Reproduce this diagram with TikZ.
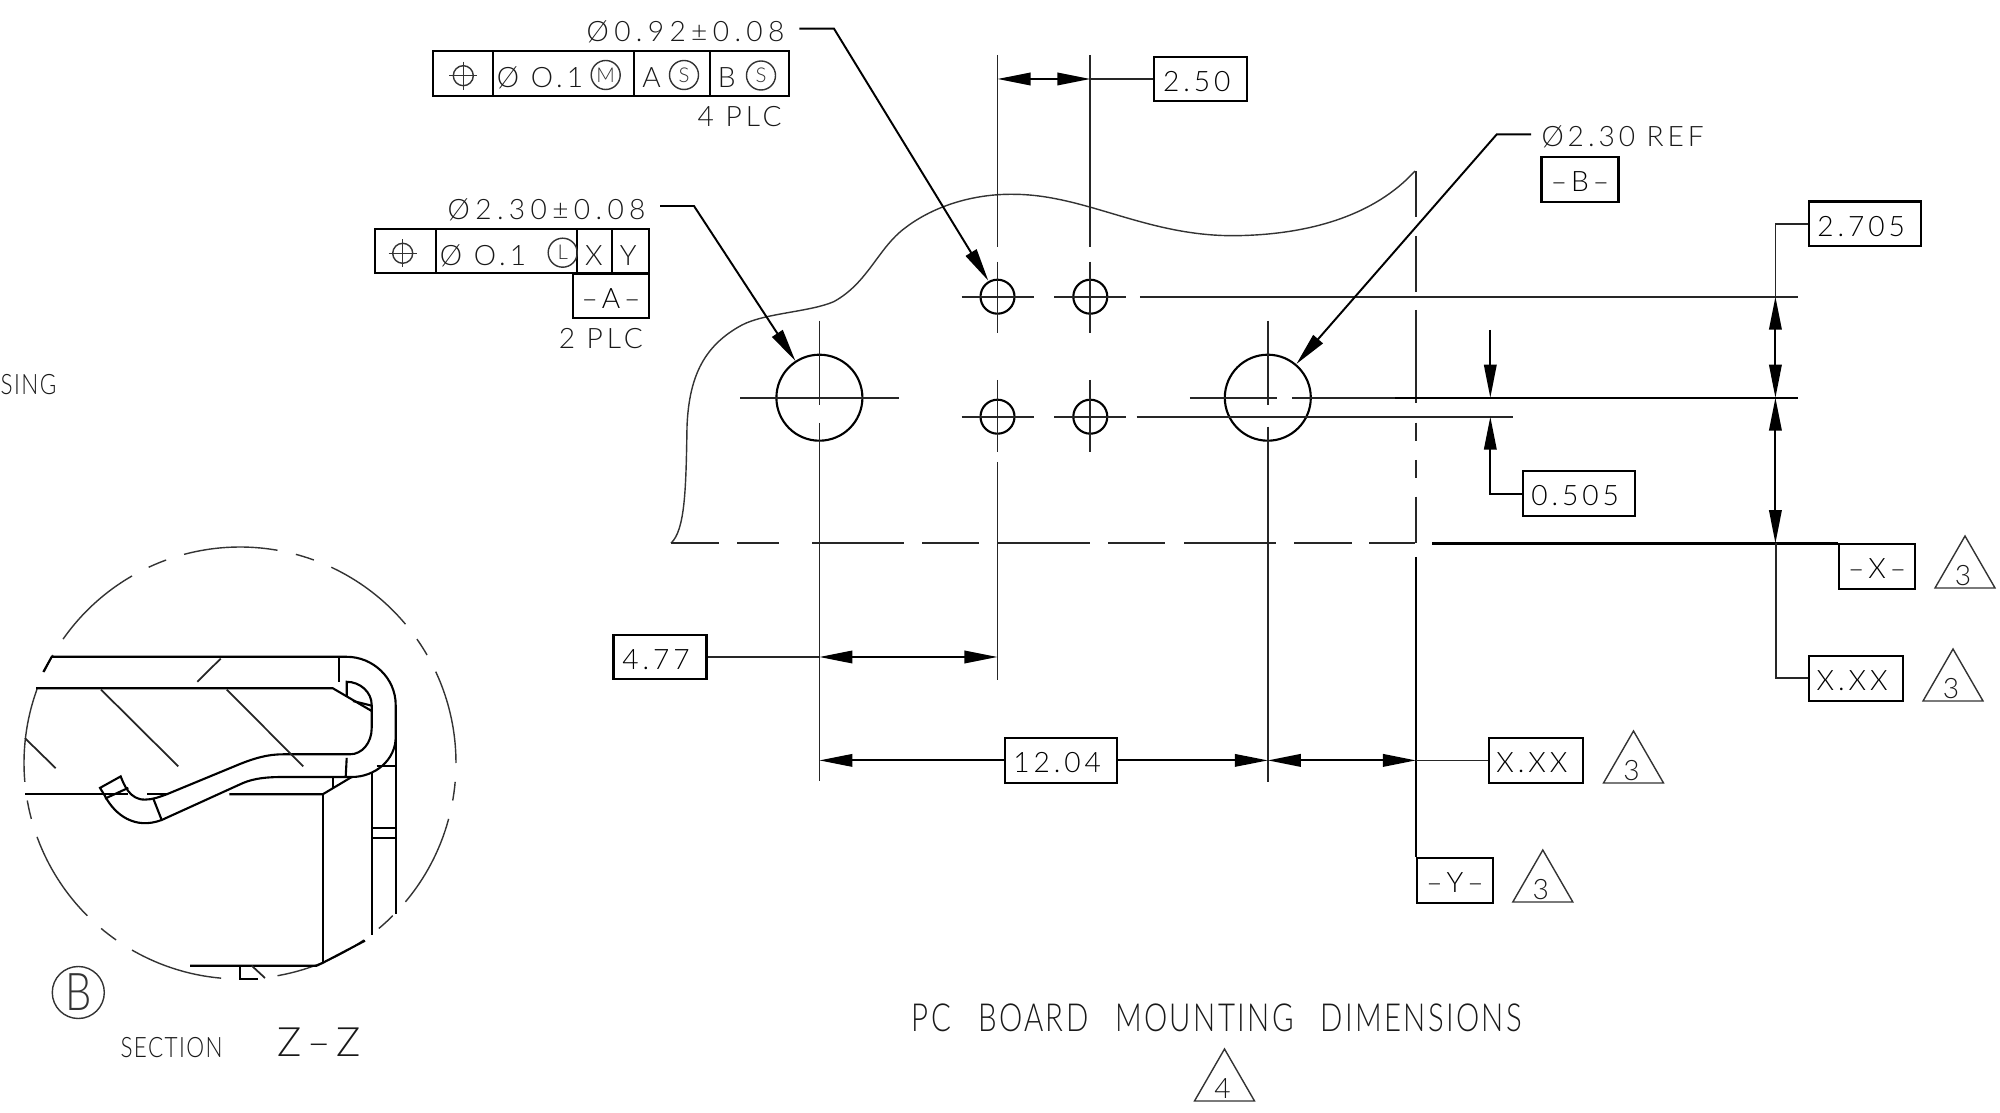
\documentclass[tikz,border=0pt]{standalone}
\usepackage{fontspec}
\setmainfont{Lato}[UprightFont=* Light,LetterSpace=14]
\usetikzlibrary{arrows.meta}
\tikzset{
  hairline/.style={line width=0.4pt,black!80},
  thinline/.style={line width=0.5pt,black!85},
  heavy/.style={line width=0.6pt},
  dimline/.style={line width=0.55pt,{Triangle[length=3.3mm,width=1.25mm]}-{Triangle[length=3.3mm,width=1.25mm]}},
  tipline/.style={line width=0.55pt,-{Triangle[length=3.3mm,width=1.25mm]}},
  dimbox/.style={draw,line width=0.6pt,inner sep=0pt,minimum height=0.445cm,text height=7pt,text depth=0pt,font=\fontsize{8}{8}\selectfont},
  numbox/.style={dimbox,execute at end node=\kern2.2pt},
  lbl/.style={inner sep=0pt,black!90,text height=7pt,text depth=0pt,font=\fontsize{8}{8}\selectfont},
  tol/.style={lbl,font=\fontsize{8}{8}\selectfont\addfontfeature{LetterSpace=19}},
  narrow/.style={lbl,font=\fontsize{8}{8}\selectfont\addfontfeature{FakeStretch=0.8,LetterSpace=5}},
  letter/.style={draw,circle,hairline,minimum size=0.29cm,inner sep=0pt,font=\fontsize{5.8}{6}\selectfont\addfontfeature{LetterSpace=0}}
}
\begin{document}
\begin{tikzpicture}[x=0.01cm,y=-0.01cm]
\useasboundingbox (0,0) rectangle (2000,1113);
\coordinate (holeL) at (819.4,397.7);
\coordinate (holeR) at (1267.8,397.7);
\coordinate (tipF) at (988.3,280.7);
\coordinate (tipL) at (795.4,361);
\coordinate (tipR) at (1296.4,364);
\node[narrow,anchor=west] (sing) at (0,382) {SING};
% board outline
\draw[hairline] (671,543.2) .. controls (685,530) and (686,490) .. (687,426.7) .. controls (689,375) and (705,345) .. (742,325) .. controls (765,313) and (810,312) .. (833.7,301.7) .. controls (868,283) and (878,248) .. (905,228) .. controls (935,205) and (975,194) .. (1012,194.3) .. controls (1085,194) and (1145,236) .. (1234,235.7) .. controls (1310,235) and (1375,215) .. (1415,171);
\foreach \a/\b in {671/719,737/779,812/904,922/979,997.5/1090,1108/1165,1184/1276,1294/1351.6,1369/1415}
  \draw[thinline] (\a,543.2) -- (\b,543.2);
\foreach \a/\b in {171/217,236/291.7,310/403,422.7/440.7,460/478,496.7/543.2}
  \draw[thinline] (1415.8,\a) -- (1415.8,\b);
% holes
\draw[heavy] (holeL) circle (43);
\draw[heavy] (holeR) circle (43);
\foreach \hx in {997.5,1090.3}
  \foreach \hy in {296.7,416.7} {
    \draw[heavy] (\hx,\hy) circle (17);
    \draw[thinline] (\hx-36,\hy) -- (\hx+36,\hy);
  }
\foreach \hx in {997.5,1090.3} {
  \draw[thinline] (\hx,55) -- (\hx,247);
  \draw[thinline] (\hx,261.7) -- (\hx,332.7);
  \draw[thinline] (\hx,380) -- (\hx,452);
}
\draw[thinline] (997.5,462) -- (997.5,680);
\draw[thinline] (740,397.7) -- (899,397.7);
\draw[thinline] (819.4,320.7) -- (819.4,405);
\draw[thinline] (819.4,423) -- (819.4,781);
\draw[thinline] (1189.8,397.7) -- (1276.5,397.7);
\draw[thinline] (1291.8,397.7) -- (1395,397.7);
\draw[heavy] (1395,397.7) -- (1798,397.7);
\draw[thinline] (1267.8,320.7) -- (1267.8,405);
\draw[thinline] (1267.8,426.7) -- (1267.8,782);
\draw[thinline] (1139.8,296.7) -- (1798,296.7);
\draw[thinline] (1136.7,416.7) -- (1513,416.7);
% datums
\draw[line width=0.8pt] (1432,543.2) -- (1838,543.2);
\node[dimbox,minimum width=0.76cm,anchor=north west] (datumX) at (1838,543.2) {–X–};
\draw[line width=0.6pt] (1415.9,557) -- (1415.9,857);
\node[dimbox,minimum width=0.76cm,anchor=north west] (datumY) at (1416,857) {–Y–};
\node[dimbox,minimum width=0.77cm] (datumB) at (1580,179.4) {–B–};
% top callouts
\node[tol] (tolF) at (685.5,29) {Ø0.92±0.08};
\coordinate (startF) at (799.3,28.7);
\draw[tipline] (startF) -- (834,28.7) -- (tipF);
\draw[heavy] (432.7,51.3) rectangle (788.7,95.7);
\foreach \dx in {493.3,634.3,710}
  \draw[heavy] (\dx,51.3) -- (\dx,95.7);
\node[lbl] (valF) at (540,75.5) {Ø O.1};
\node[letter] (modM) at (605.7,75) {M};
\node[lbl] (refA) at (651.7,75.5) {A};
\node[letter] (modSa) at (684,75) {S};
\node[lbl] (refB) at (726.7,75.5) {B};
\node[letter] (modSb) at (761,75.5) {S};
\node[lbl] (plcF) at (739.7,114.5) {4 PLC};
\node[tol] (tolL) at (546.6,207.3) {Ø2.30±0.08};
\coordinate (startL) at (660,206);
\draw[tipline] (startL) -- (694,206) -- (tipL);
\draw[heavy] (375.3,229) rectangle (649.3,273.3);
\foreach \dx in {435.7,577,611.7}
  \draw[heavy] (\dx,229) -- (\dx,273.3);
\foreach \sx/\sy in {463.3/75.7,402.7/253.3} {
  \draw[hairline] (\sx,\sy) circle (10);
  \draw[hairline] (\sx-14,\sy) -- (\sx+14,\sy);
  \draw[hairline] (\sx,\sy-14) -- (\sx,\sy+14);
}
\node[lbl] (valL) at (483,253.5) {Ø O.1};
\node[letter] (modL) at (562.7,252.7) {L};
\node[lbl] (refX) at (594,253.5) {X};
\node[lbl] (refY) at (628.3,253.5) {Y};
\node[dimbox,minimum width=0.766cm] (datumA) at (611,295.8) {–A–};
\node[lbl] (plcL) at (600.8,335.7) {2 PLC};
\node[lbl,anchor=west] (tolR) at (1540.8,134.7) {Ø2.30 REF};
\coordinate (startR) at (1531,134.3);
\draw[tipline] (startR) -- (1496.8,134.3) -- (tipR);
% dimensions
\node[numbox,minimum width=0.93cm] (dimC) at (1200.7,79) {2.50};
\draw[thinline] (dimC.west) -- (1090.3,79);
\draw[dimline] (997.5,79) -- (1090.3,79);
\node[numbox,minimum width=1.12cm] (dimD) at (1865,223.8) {2.705};
\coordinate (dimDk) at (1775.4,296.7);
\draw[thinline] (dimD.west) -| (dimDk);
\draw[dimline] (dimDk) -- (1775.4,397.7);
\draw[dimline] (1775.4,397.7) -- (1775.4,543.2);
\node[numbox,minimum width=1.12cm] (dimE) at (1579,493.6) {0.505};
\draw[tipline] (1490.3,330) -- (1490.3,397.7);
\draw[tipline] (dimE.west) -| (1490.3,416.7);
\node[numbox,minimum width=0.93cm] (dimG) at (660,657) {4.77};
\draw[thinline] (dimG.east) -- (819.4,657);
\draw[dimline] (819.4,657) -- (997.5,657);
\node[numbox,minimum width=1.12cm] (dimH) at (1061,760.4) {12.04};
\draw[tipline] (dimH.west) -- (819.4,760.4);
\draw[tipline] (dimH.east) -- (1267.8,760.4);
\draw[dimline] (1267.8,760.4) -- (1415.9,760.4);
\node[numbox,minimum width=0.94cm] (dimJ) at (1535.7,760.4) {X.XX};
\draw[thinline] (1415.9,760.4) -- (dimJ.west);
\node[numbox,minimum width=0.94cm] (dimK) at (1856,678.3) {X.XX};
\draw[thinline] (1775.6,543.2) |- (dimK.west);
% flag triangles
\foreach \n/\tx/\ty/\tn in {triX/1965/536/3,triK/1953/649/3,triJ/1633.5/731/3,triY/1542.8/850/3,triT/1224.5/1049/4} {
  \draw[hairline] (\tx,\ty) -- (\tx-30,\ty+52) -- (\tx+30,\ty+52) -- cycle;
  \node[lbl] (\n) at (\tx-2,\ty+37) {\tn};
}
\node[lbl,text height=8.8pt,font=\fontsize{11}{11}\selectfont\addfontfeature{FakeStretch=0.76,LetterSpace=6}] (title) at (1217,1016) {PC\hspace{0.27cm}BOARD\hspace{0.27cm}MOUNTING\hspace{0.27cm}DIMENSIONS};
% section detail
\foreach \a/\b in {255/280,285/290,295/320,325/330,335/360,5/10,15/40,45/50,55/80,95/120,125/130,135/160,165/170,175/200,205/210,215/240,245/250}
  \draw[hairline] plot[domain=\a:\b,samples=12,smooth] ({240+216*cos(\x)},{763+216*sin(\x)});
\draw[heavy] (43.3,672) -- (51.7,656.8) -- (346.7,656.8) .. controls (373,656.8) and (395.7,678) .. (395.7,705) -- (395.7,737) .. controls (395.7,760) and (375,777) .. (351.7,777) -- (283.3,777) .. controls (268,777) and (255,778) .. (243,783) -- (161.7,820) .. controls (135,830) and (115,815) .. (105,796) -- (100,787.9) -- (120.7,776.4) .. controls (124,785) and (130,800) .. (145,799.6) .. controls (152,799.6) and (158,797.5) .. (166.7,794.3) -- (240,764) .. controls (255,758) and (268,754.3) .. (283,754.3) -- (350,754.3) .. controls (362,754.3) and (371.7,743) .. (371.7,728) -- (371.7,705) .. controls (371.7,692) and (360,681.8) .. (346.7,681.8) -- (346.7,696);
\draw[heavy] (36,688.2) -- (332.7,688.2) -- (371.7,711);
\draw[heavy] (353,701) -- (371.7,705.7);
\draw[heavy] (339.3,656.8) -- (339.3,681.8);
\draw[thinline] (220.7,658.6) -- (197.3,681.8);
\draw[thinline] (101,689.6) -- (178.3,766.4);
\draw[thinline] (226.7,689.6) -- (303.3,766.4);
\draw[thinline] (25,738.2) -- (55.7,768.2);
\draw[heavy] (25,794.3) -- (128,794.3);
\draw[heavy] (147,794.3) -- (166.7,794.3);
\draw[heavy] (229.3,794.3) -- (322.7,794.3) -- (351.7,777);
\draw[heavy] (322.7,794.3) -- (322.7,962.9);
\draw[heavy] (333.3,778) -- (333.3,788);
\draw[heavy] (346.7,757.9) -- (345.7,777);
\draw[heavy] (105,798.6) -- (128.3,787.9);
\draw[heavy] (153.3,798.6) -- (161.7,820);
\draw[heavy] (371.7,772.9) -- (371.7,935.4);
\draw[heavy] (395.7,705) -- (395.7,914);
\draw[heavy] (376.7,766.4) -- (395.7,766.4);
\draw[heavy] (371.7,828.2) -- (395.7,828.2);
\draw[heavy] (371.7,838.2) -- (395.7,838.2);
\draw[heavy] (190,965.7) -- (316.7,965.7) -- (322.7,962.9) -- (365,940.7);
\draw[heavy] (240,965.7) -- (240,979.3) -- (258.3,979.3);
\draw[thinline] (251.7,965.7) -- (265,978);
\node[draw,circle,hairline,minimum size=0.52cm,inner sep=0pt,font=\fontsize{14.8}{15}\selectfont\addfontfeature{FakeStretch=0.8,LetterSpace=0}] (callB) at (78.3,992.5) {B};
\node[narrow] (section) at (171.6,1045) {SECTION};
\node[lbl,text height=8.8pt,font=\fontsize{11.5}{12}\selectfont] (zone) at (319,1040.7) {Z–Z};
\end{tikzpicture}
\end{document}
